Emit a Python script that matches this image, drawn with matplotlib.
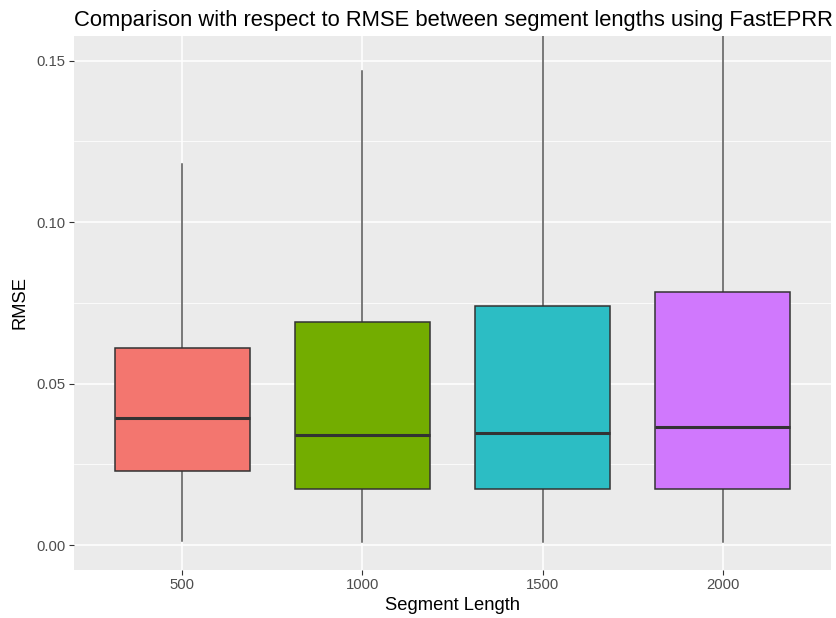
import matplotlib
matplotlib.use("Agg")
import matplotlib.pyplot as plt

plt.rcParams['font.family'] = ['Liberation Sans', 'DejaVu Sans']

# Segment lengths and RMSE box statistics (FastEPRR)
segment_lengths = ["500", "1000", "1500", "2000"]
whisker_low = [0.0012, 0.0010, 0.0010, 0.0010]
q1 = [0.0230, 0.0172, 0.0173, 0.0173]
median = [0.0392, 0.0340, 0.0347, 0.0365]
q3 = [0.0609, 0.0690, 0.0741, 0.0782]
whisker_high = [0.1180, 0.1468, 0.1590, 0.1680]
fill_colors = ["#F3766F", "#73AD00", "#2CBDC4", "#D078FD"]

fig = plt.figure(figsize=(8.36, 6.18), dpi=100)
W, H = 836, 618
ax = fig.add_axes([74 / W, (H - 570) / H, (831 - 74) / W, (570 - 35.7) / H])
ax.set_facecolor("#EBEBEB")

positions = list(range(1, len(segment_lengths) + 1))
stats = []
for i, lab in enumerate(segment_lengths):
    stats.append(dict(label=lab, whislo=whisker_low[i], q1=q1[i], med=median[i],
                      q3=q3[i], whishi=whisker_high[i], fliers=[]))

bp = ax.bxp(stats, positions=positions, widths=0.75, patch_artist=True,
            showcaps=False, showfliers=False,
            boxprops=dict(edgecolor="#333333", linewidth=1.1),
            medianprops=dict(color="#333333", linewidth=2.2, solid_capstyle="butt"),
            whiskerprops=dict(color="#555555", linewidth=1.1))
for patch, c in zip(bp["boxes"], fill_colors):
    patch.set_facecolor(c)
    patch.set_zorder(3)
for ln in bp["medians"]:
    ln.set_zorder(4)
for ln in bp["whiskers"]:
    ln.set_zorder(2)

ax.set_xlim(0.4, len(segment_lengths) + 0.6)
ax.set_ylim(-0.00774, 0.1577)

yticks = [0.00, 0.05, 0.10, 0.15]
ax.set_yticks(yticks)
ax.set_yticklabels([f"{v:.2f}" for v in yticks])
ax.set_yticks([0.025, 0.075, 0.125], minor=True)
ax.set_xticks(positions)
ax.set_xticklabels(segment_lengths)

ax.grid(True, which="major", color="white", linewidth=1.1, zorder=0)
ax.grid(True, which="minor", axis="y", color="white", linewidth=0.55, zorder=0)
ax.set_axisbelow(True)
for s in ax.spines.values():
    s.set_visible(False)

ax.tick_params(axis="both", which="major", length=3.5, width=0.8, color="#333333",
               labelcolor="#4D4D4D", labelsize=10.7, pad=2.5)
ax.tick_params(axis="both", which="minor", length=0)

ax.set_xlabel("Segment Length", fontsize=13.2, color="black", labelpad=3)
ax.set_ylabel("RMSE", fontsize=13.2, color="black", labelpad=6)
fig.text(74 / W, 1 - 26 / H, "Comparison with respect to RMSE between segment lengths using FastEPRR",
         fontsize=15.8, color="black", ha="left", va="baseline")

fig.savefig("out.png", dpi=100, facecolor="white")
